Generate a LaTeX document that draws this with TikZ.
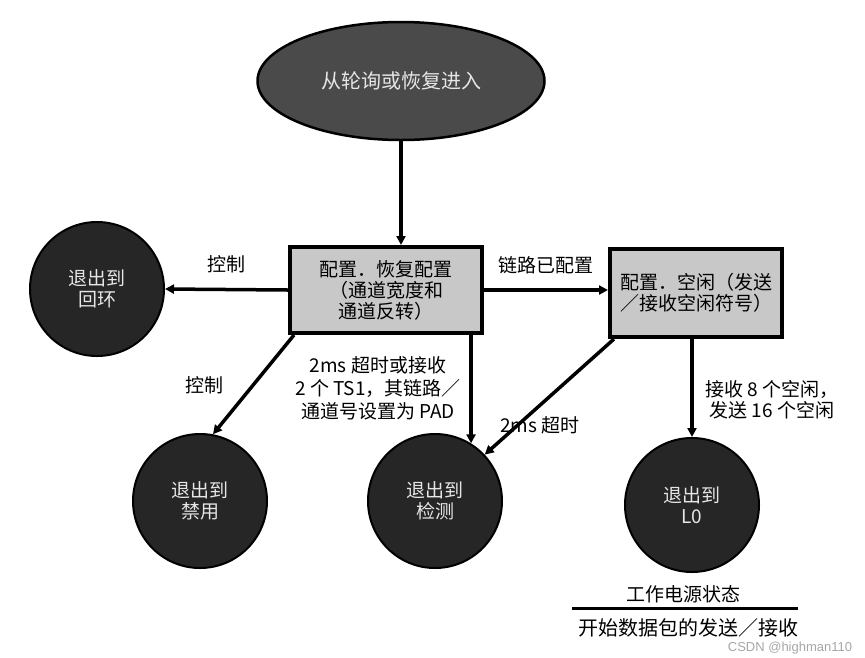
\documentclass[tikz,border=0pt]{standalone}
\usepackage{fontspec}
\setmainfont{Noto Sans CJK SC}
\newfontfamily\wmfont{Liberation Sans}
\usetikzlibrary{shapes.geometric,arrows.meta}
\definecolor{ellfill}{HTML}{4A4A4A}
\definecolor{circfill}{HTML}{262626}
\definecolor{boxfill}{HTML}{C8C8C8}
\definecolor{lighttext}{HTML}{E6E6E6}
\tikzset{
  circ/.style={circle,draw=black,line width=2pt,fill=circfill,minimum size=134pt,inner sep=0pt,
    text=lighttext,align=center,font=\fontsize{19}{21}\selectfont},
  stbox/.style={rectangle,draw=black,line width=4pt,fill=boxfill,inner sep=0pt,align=center,
    font=\fontsize{19}{21}\selectfont},
  lbl/.style={align=center,inner sep=0pt,font=\fontsize{19}{23}\selectfont},
  arr/.style={line width=3.5pt,-{Triangle[length=9pt,width=9pt]}}
}
\begin{document}
\begin{tikzpicture}[x=1pt,y=-1pt]
\useasboundingbox (0,0) rectangle (865,657);
\node[ellipse,draw=black,line width=2.5pt,fill=ellfill,minimum width=287pt,minimum height=118pt,
  inner sep=0pt,text=lighttext,font=\fontsize{20}{22}\selectfont] (top) at (401,81) {从轮询或恢复进入};
\node[stbox,minimum width=192pt,minimum height=86pt] (box1) at (386,290) {配置．恢复配置\\（通道宽度和\\通道反转）};
\node[stbox,minimum width=172pt,minimum height=88pt] (box2) at (696,293) {配置．空闲（发送\\／接收空闲符号）};
\node[circ] (c1) at (97,289) {退出到\\回环};
\node[circ] (c2) at (200,501) {退出到\\禁用};
\node[circ] (c3) at (435,501) {退出到\\检测};
\node[circ] (c4) at (692,505) {退出到\\L0};
\draw[arr] (top) -- (top.south |- box1.north);
\draw[arr] (box1.west) -- (c1.east);
\draw[arr] (box1.east) -- (box2.west |- box1.east);
\draw[arr] ([xshift=6pt]box1.south west) -- (c2.79);
\draw[arr] (c3.58 |- box1.south) -- (c3.58);
\draw[arr] ([xshift=6pt]box2.south west) -- (c3.43);
\draw[arr] (c4.north |- box2.south) -- (c4.north);
\node[lbl] (l1) at (226,264) {控制};
\node[lbl] (l2) at (546,265) {链路已配置};
\node[lbl] (l3) at (204,385) {控制};
\node[lbl] (l4) at (378,388) {2ms 超时或接收\\2 个 TS1，其链路／\\通道号设置为 PAD};
\node[lbl] (l5) at (540,425) {2ms 超时};
\node[lbl,font=\fontsize{19}{21}\selectfont] (l6) at (772,400) {接收 8 个空闲，\\发送 16 个空闲};
\node[lbl] (l7) at (683,594) {工作电源状态};
\coordinate (ua) at (572,608);
\coordinate (ub) at (798,608);
\draw[line width=3pt] (ua) -- (ub);
\node[lbl,font=\fontsize{20}{22}\selectfont] (l8) at (688,628) {开始数据包的发送／接收};
\node[inner sep=0pt,text=black!35,font=\wmfont\fontsize{13}{15}\selectfont] (wm) at (790,648) {CSDN @highman110};
\end{tikzpicture}
\end{document}
